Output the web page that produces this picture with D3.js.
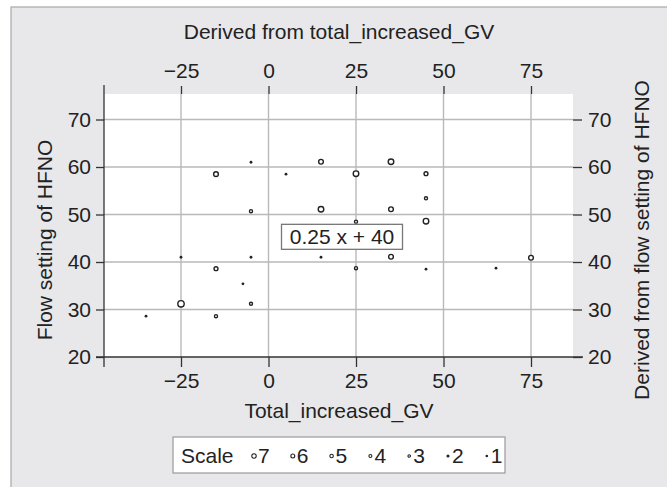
<!DOCTYPE html>
<html>
<head>
<meta charset="utf-8">
<script src="https://cdn.jsdelivr.net/npm/d3@7/dist/d3.min.js"></script>
<style>
  html, body { margin: 0; padding: 0; background: #fff; }
  svg text { font-family: "Liberation Sans", Arial, Helvetica, sans-serif; fill: #222; }
</style>
</head>
<body>
<svg id="chart" width="667" height="487"></svg>
<script>
// data
var gv    = [-5, 15, 35, -15, 5, 25, 45, 45, -5, 15, 35, 25, 45, -25, -5, 15, 35, 75, -15, 25, 45, 65, -7.3, -25, -5, -35, -15];
var hfno  = [61, 61.1, 61.1, 58.5, 58.5, 58.6, 58.6, 53.4, 50.7, 51.1, 51.1, 48.5, 48.6, 41, 41, 41, 41.1, 40.9, 38.6, 38.7, 38.5, 38.7, 35.4, 31.2, 31.2, 28.6, 28.6];
var scale = [1, 5, 6, 5, 1, 6, 4, 3, 3, 6, 5, 3, 6, 1, 1, 1, 5, 5, 4, 3, 1, 1, 1, 7, 3, 1, 3];

var xTicks = [-25, 0, 25, 50, 75];
var yTicks = [20, 30, 40, 50, 60, 70];
var legendSizes = [7, 6, 5, 4, 3, 2, 1];
var fitLabel = '0.25 x + 40';

// layout (plot region in px)
var pLeft = 104, pRight = 573, pTop = 94, pBottom = 357;
var fontSize = '21px';

var svg = d3.select('#chart');

// background panel
svg.append('rect')
    .attr('x', 11).attr('y', 7)
    .attr('width', 680).attr('height', 500)
    .attr('fill', '#e8e8ea')
    .attr('stroke', '#a8a8a8')
    .attr('stroke-width', 1.2);

// scales
var x = d3.scaleLinear().domain([-47, 87]).range([pLeft, pRight]);
var y = d3.scaleLinear().domain([20, 75.37]).range([pBottom, pTop]);
var r = d3.scaleLinear().domain([1, 7]).range([1.4, 3.9]);
var rLegend = d3.scaleLinear().domain([1, 7]).range([1.3, 2.7]);

// plot region
svg.append('rect')
    .attr('x', pLeft).attr('y', pTop)
    .attr('width', pRight - pLeft).attr('height', pBottom - pTop)
    .attr('fill', '#fff');

// grid
svg.append('g').selectAll('line')
    .data(yTicks.filter(function(d){ return d > 20 }))
    .enter().append('line')
    .attr('x1', pLeft).attr('x2', pRight)
    .attr('y1', function(d){ return y(d) }).attr('y2', function(d){ return y(d) })
    .attr('stroke', '#b9b9b9').attr('stroke-width', 1.4);

svg.append('g').selectAll('line')
    .data(xTicks)
    .enter().append('line')
    .attr('x1', function(d){ return x(d) }).attr('x2', function(d){ return x(d) })
    .attr('y1', pTop).attr('y2', pBottom)
    .attr('stroke', '#b9b9b9').attr('stroke-width', 1.4);

// axes
function styleAxis(g) {
    g.selectAll('.domain').remove();
    g.selectAll('.tick line').attr('stroke', '#333').attr('stroke-width', 1.3);
    g.selectAll('.tick text').style('font-size', fontSize).attr('fill', '#222');
}

svg.append('g')
    .attr('transform', 'translate(0,' + pBottom + ')')
    .call(d3.axisBottom(x).tickValues(xTicks).tickSize(10).tickPadding(6))
    .call(styleAxis);

svg.append('g')
    .attr('transform', 'translate(0,' + pTop + ')')
    .call(d3.axisTop(x).tickValues(xTicks).tickSize(8).tickPadding(8))
    .call(styleAxis);

svg.append('g')
    .attr('transform', 'translate(' + pLeft + ',0)')
    .call(d3.axisLeft(y).tickValues(yTicks).tickSize(8).tickPadding(5))
    .call(styleAxis);

svg.append('g')
    .attr('transform', 'translate(' + pRight + ',0)')
    .call(d3.axisRight(y).tickValues(yTicks).tickSize(9).tickPadding(6))
    .call(styleAxis);

// axis lines
svg.append('line')
    .attr('x1', pLeft).attr('x2', pLeft).attr('y1', 85).attr('y2', 367)
    .attr('stroke', '#333').attr('stroke-width', 1.3);
svg.append('line')
    .attr('x1', 96).attr('x2', 583).attr('y1', pBottom).attr('y2', pBottom)
    .attr('stroke', '#333').attr('stroke-width', 1.3);

// titles
svg.append('text')
    .attr('x', 339).attr('y', 39)
    .attr('text-anchor', 'middle')
    .style('font-size', fontSize)
    .text('Derived from total_increased_GV');

svg.append('text')
    .attr('x', 339).attr('y', 418)
    .attr('text-anchor', 'middle')
    .style('font-size', fontSize)
    .text('Total_increased_GV');

svg.append('text')
    .attr('transform', 'translate(52,240) rotate(-90)')
    .attr('text-anchor', 'middle')
    .style('font-size', fontSize)
    .text('Flow setting of HFNO');

svg.append('text')
    .attr('transform', 'translate(649,240) rotate(-90)')
    .attr('text-anchor', 'middle')
    .style('font-size', fontSize)
    .text('Derived from flow setting of HFNO');

// points
svg.append('g').selectAll('circle')
    .data(gv)
    .enter().append('circle')
    .attr('cx', function(d){ return x(d) })
    .attr('cy', function(d, i){ return y(hfno[i]) })
    .attr('r', function(d, i){ return scale[i] <= 2 ? r(scale[i]) : r(scale[i]) - 0.7 })
    .attr('fill', function(d, i){ return scale[i] <= 2 ? '#222' : '#fff' })
    .attr('stroke', '#222')
    .attr('stroke-width', function(d, i){ return scale[i] <= 2 ? 0 : 1.4 });

// fitted line label
var lab = svg.append('g');
var labX = x(21), labY = y(45.3);
lab.append('rect')
    .attr('x', labX - 60.5).attr('y', labY - 12.5)
    .attr('width', 121).attr('height', 25)
    .attr('fill', '#fff')
    .attr('stroke', '#777').attr('stroke-width', 1.3);
lab.append('text')
    .attr('x', labX).attr('y', labY + 7.5)
    .attr('text-anchor', 'middle')
    .style('font-size', fontSize)
    .text(fitLabel);

// legend
var leg = svg.append('g');
leg.append('rect')
    .attr('x', 173).attr('y', 437)
    .attr('width', 332).attr('height', 36)
    .attr('fill', '#fff')
    .attr('stroke', '#a0a0a0').attr('stroke-width', 1.3);
leg.append('text')
    .attr('x', 181).attr('y', 463)
    .style('font-size', fontSize)
    .text('Scale');

var items = leg.selectAll('.item')
    .data(legendSizes)
    .enter().append('g')
    .attr('class', 'item')
    .attr('transform', function(d, i){ return 'translate(' + (254 + i * 38.8) + ',0)' });

items.append('circle')
    .attr('cx', 0).attr('cy', 456)
    .attr('r', function(d){ return d <= 2 ? rLegend(d) : rLegend(d) - 0.5 })
    .attr('fill', function(d){ return d <= 2 ? '#222' : '#fff' })
    .attr('stroke', '#222')
    .attr('stroke-width', function(d){ return d <= 2 ? 0 : 1.1 });

items.append('text')
    .attr('x', 4).attr('y', 463)
    .style('font-size', fontSize)
    .text(function(d){ return d });
</script>
</body>
</html>
